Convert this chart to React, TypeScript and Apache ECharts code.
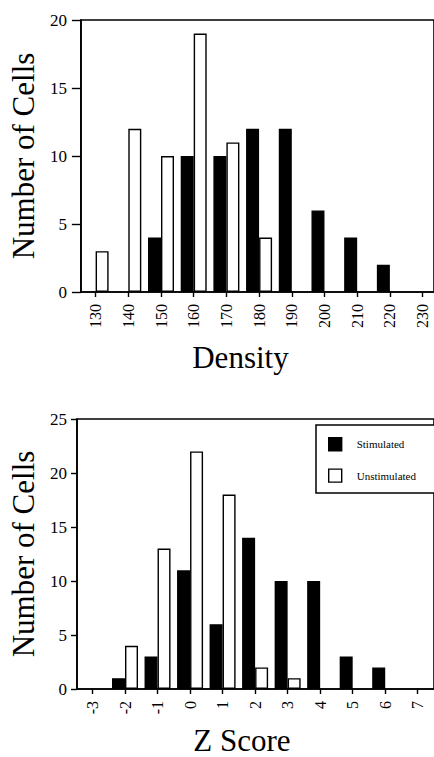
import React, { useEffect, useRef } from "react";
import * as echarts from "echarts";

// Top histogram: Density
const densityTicks = [130, 140, 150, 160, 170, 180, 190, 200, 210, 220, 230];
const densityBins = [130, 140, 150, 160, 170, 180, 190, 200, 210, 220];
const densityStimulated = [0, 0, 4, 10, 10, 12, 12, 6, 4, 2];
const densityUnstimulated = [3, 12, 10, 19, 11, 4, 0, 0, 0, 0];

// Bottom histogram: Z Score
const zTicks = [-3, -2, -1, 0, 1, 2, 3, 4, 5, 6, 7];
const zBins = [-2, -1, 0, 1, 2, 3, 4, 5, 6];
const zStimulated = [1, 3, 11, 6, 14, 10, 10, 3, 2];
const zUnstimulated = [4, 13, 22, 18, 2, 1, 0, 0, 0];

const FONT = "'Liberation Serif', 'Times New Roman', serif";

const pairs = (bins: number[], vals: number[]) =>
  bins.map((b, i) => [b, vals[i]]).filter((p) => p[1] > 0);

export default function App() {
  const ref = useRef<HTMLDivElement>(null);
  useEffect(() => {
    if (!ref.current) return;
    const chart = echarts.init(ref.current, null, { renderer: "svg" });
    const axisLine = { show: true, onZero: false, lineStyle: { color: "#000", width: 1.6 } };
    const stimStyle = { color: "#000", borderColor: "#000", borderWidth: 1.4 };
    const unstimStyle = { color: "#fff", borderColor: "#000", borderWidth: 1.4 };
    const xAxisCommon = (ticks: number[]) => ({
      type: "value",
      axisLine,
      splitLine: { show: false },
      axisTick: { show: true, length: 5, customValues: ticks, lineStyle: { color: "#000", width: 1.4 } },
      axisLabel: {
        customValues: ticks,
        rotate: 90,
        margin: 12,
        fontFamily: FONT,
        fontSize: 16,
        color: "#000",
      },
      nameLocation: "middle",
    });
    const yAxisCommon = {
      type: "value",
      min: 0,
      axisLine,
      splitLine: { show: false },
      nameLocation: "middle",
      nameRotate: 90,
      nameTextStyle: { fontFamily: FONT, fontSize: 31, color: "#000" },
    };
    chart.setOption({
      animation: false,
      backgroundColor: "#fff",
      textStyle: { fontFamily: FONT },
      grid: [
        { left: 77, top: 20, width: 363, height: 272, show: true, borderColor: "#000", borderWidth: 1.6 },
        { left: 71, top: 419, width: 369, height: 273, show: true, borderColor: "#000", borderWidth: 1.6 },
      ],
      xAxis: [
        {
          ...xAxisCommon(densityTicks),
          gridIndex: 0,
          min: 125.5,
          max: 233.5,
          name: "Density",
          nameGap: 50,
          nameTextStyle: { fontFamily: FONT, fontSize: 31, color: "#000", padding: [0, 34, 0, 0] },
        },
        {
          ...xAxisCommon(zTicks),
          gridIndex: 1,
          min: -3.476,
          max: 7.5,
          name: "Z Score",
          nameGap: 36,
          nameTextStyle: { fontFamily: FONT, fontSize: 31, color: "#000", padding: [0, 27, 0, 0] },
        },
      ],
      yAxis: [
        {
          ...yAxisCommon,
          gridIndex: 0,
          max: 20,
          interval: 5,
          name: "Number of Cells",
          nameGap: 36,
          axisTick: { show: true, length: 9, lineStyle: { color: "#000", width: 1.4 } },
          axisLabel: { margin: 14, fontFamily: FONT, fontSize: 17, color: "#000" },
        },
        {
          ...yAxisCommon,
          gridIndex: 1,
          max: 25,
          interval: 5,
          name: "Number of Cells",
          nameGap: 38,
          axisTick: { show: true, length: 6, lineStyle: { color: "#000", width: 1.4 } },
          axisLabel: { margin: 10, fontFamily: FONT, fontSize: 17, color: "#000" },
        },
      ],
      graphic: [
        {
          type: "rect",
          shape: { x: 316, y: 425, width: 140, height: 68 },
          style: { fill: "#fff", stroke: "#000", lineWidth: 1.5 },
          z: 5,
        },
      ],
      legend: {
        orient: "vertical",
        left: 316,
        top: 425,
        z: 10,
        itemWidth: 13,
        itemHeight: 13,
        itemGap: 17,
        padding: [12, 10, 13, 12],
        textStyle: { fontFamily: FONT, fontSize: 11, color: "#000", padding: [0, 0, 0, 10] },
        data: [
          { name: "Stimulated", icon: "rect", itemStyle: stimStyle },
          { name: "Unstimulated", icon: "rect", itemStyle: unstimStyle },
        ],
      },
      series: [
        {
          type: "bar",
          name: "Stimulated",
          xAxisIndex: 0,
          yAxisIndex: 0,
          barWidth: 13,
          barGap: "0%",
          itemStyle: stimStyle,
          data: pairs(densityBins, densityStimulated),
        },
        {
          type: "bar",
          name: "Unstimulated",
          xAxisIndex: 0,
          yAxisIndex: 0,
          barWidth: 13,
          barGap: "0%",
          itemStyle: unstimStyle,
          data: pairs(densityBins, densityUnstimulated),
        },
        {
          type: "bar",
          name: "Stimulated",
          xAxisIndex: 1,
          yAxisIndex: 1,
          barWidth: 13,
          barGap: "0%",
          itemStyle: stimStyle,
          data: pairs(zBins, zStimulated),
        },
        {
          type: "bar",
          name: "Unstimulated",
          xAxisIndex: 1,
          yAxisIndex: 1,
          barWidth: 13,
          barGap: "0%",
          itemStyle: unstimStyle,
          data: pairs(zBins, zUnstimulated),
        },
      ],
    });
    return () => chart.dispose();
  }, []);
  return (
    <div
      ref={ref}
      style={{ position: "fixed", left: 0, top: 0, width: 434, height: 757, background: "#fff" }}
    />
  );
}
